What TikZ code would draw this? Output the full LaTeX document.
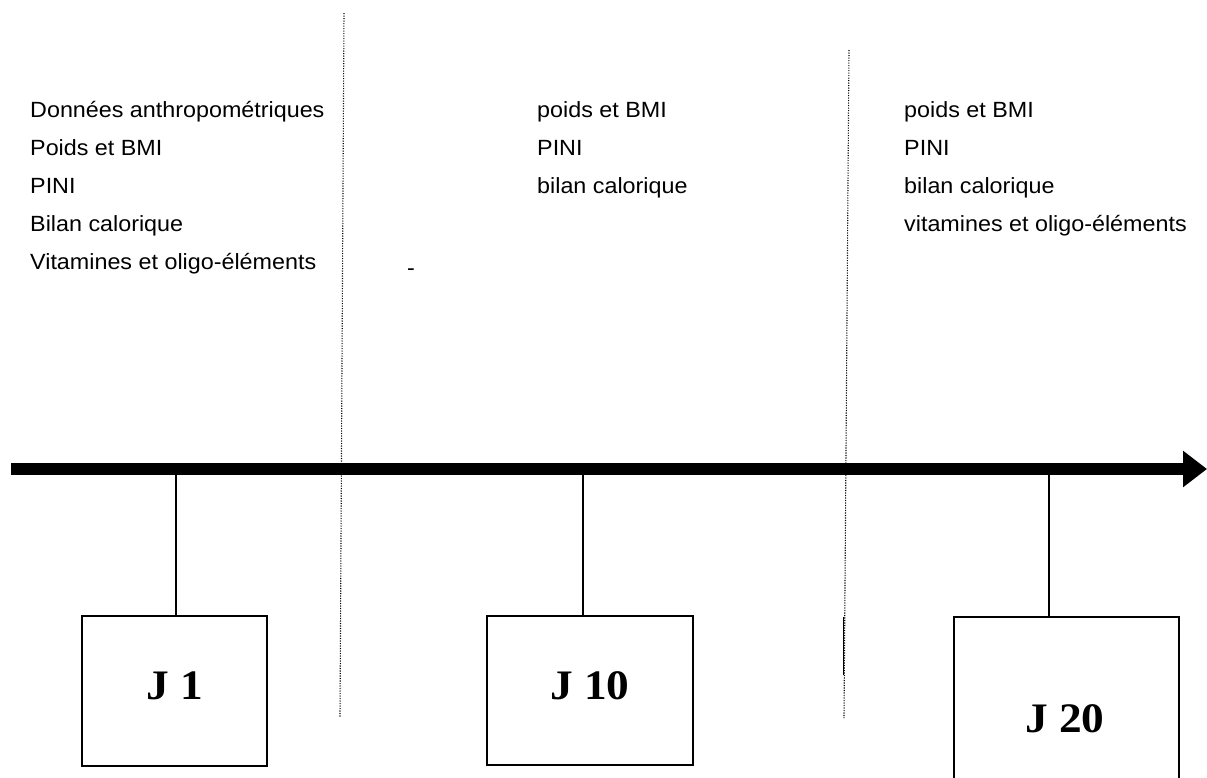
\documentclass[tikz,border=0pt]{standalone}
\usepackage{fontspec}
\setmainfont[FakeStretch=1.06]{Liberation Sans}
\newfontfamily\jfont[FakeStretch=1.08]{Liberation Serif}
\usetikzlibrary{arrows.meta}
\tikzset{
  x=1pt, y=-1pt,
  item/.style={anchor=base west, inner sep=0pt, font=\fontsize{22}{26}\selectfont},
  daybox/.style={draw, line width=1.3pt, minimum width=#1, inner sep=0pt},
  daytext/.style={font=\jfont\bfseries\fontsize{42}{46}\selectfont, inner sep=0pt},
  sep/.style={line width=1.1pt, dash pattern=on 1.2pt off 1.3pt},
  stem/.style={line width=1.3pt},
}
\begin{document}
\begin{tikzpicture}
\useasboundingbox (0,0) rectangle (1207,777);
\clip (0,0) rectangle (1207,777);

% separators
\coordinate (s1a) at (344,13);
\coordinate (s1b) at (340,717);
\coordinate (s2a) at (849,50);
\coordinate (s2b) at (844,718);
\coordinate (s2c) at (843,617);
\coordinate (s2d) at (843,675);
\draw[sep] (s1a) -- (s1b);
\draw[sep] (s2a) -- (s2b);
\draw[line width=1pt] (s2c) -- (s2d);

% timeline
\coordinate (t0) at (11,469);
\coordinate (t1) at (1207,469);
\draw[line width=12pt, -{Triangle[length=24pt,width=35pt]}] (t0) -- (t1);

% texts column 1
\node[item] (a1) at (30,117) {Données anthropométriques};
\node[item] (a2) at (30,155) {Poids et BMI};
\node[item] (a3) at (30,193) {PINI};
\node[item] (a4) at (30,231) {Bilan calorique};
\node[item] (a5) at (30,269) {Vitamines et oligo-éléments};
\node[item] (dash) at (407,275) {-};

% column 2
\node[item] (b1) at (537,117) {poids et BMI};
\node[item] (b2) at (537,155) {PINI};
\node[item] (b3) at (537,193) {bilan calorique};

% column 3
\node[item] (c1) at (904,117) {poids et BMI};
\node[item] (c2) at (904,155) {PINI};
\node[item] (c3) at (904,193) {bilan calorique};
\node[item] (c4) at (904,231) {vitamines et oligo-éléments};

% boxes
\node[daybox=185pt, minimum height=150pt] (j1) at (174.5,691) {};
\node[daybox=206pt, minimum height=149pt] (j10) at (590,690.5) {};
\node[daybox=225pt, minimum height=183pt] (j20) at (1066.5,708.5) {};
\node[daytext] (l1) at (175,686) {J 1};
\node[daytext] (l10) at (590,686) {J 10};
\node[daytext] (l20) at (1065,719) {J 20};

% stems
\coordinate (p1) at (176,475);
\coordinate (p10) at (583,475);
\coordinate (p20) at (1049,475);
\draw[stem] (p1) -- (p1 |- j1.north);
\draw[stem] (p10) -- (p10 |- j10.north);
\draw[stem] (p20) -- (p20 |- j20.north);
\end{tikzpicture}
\end{document}
